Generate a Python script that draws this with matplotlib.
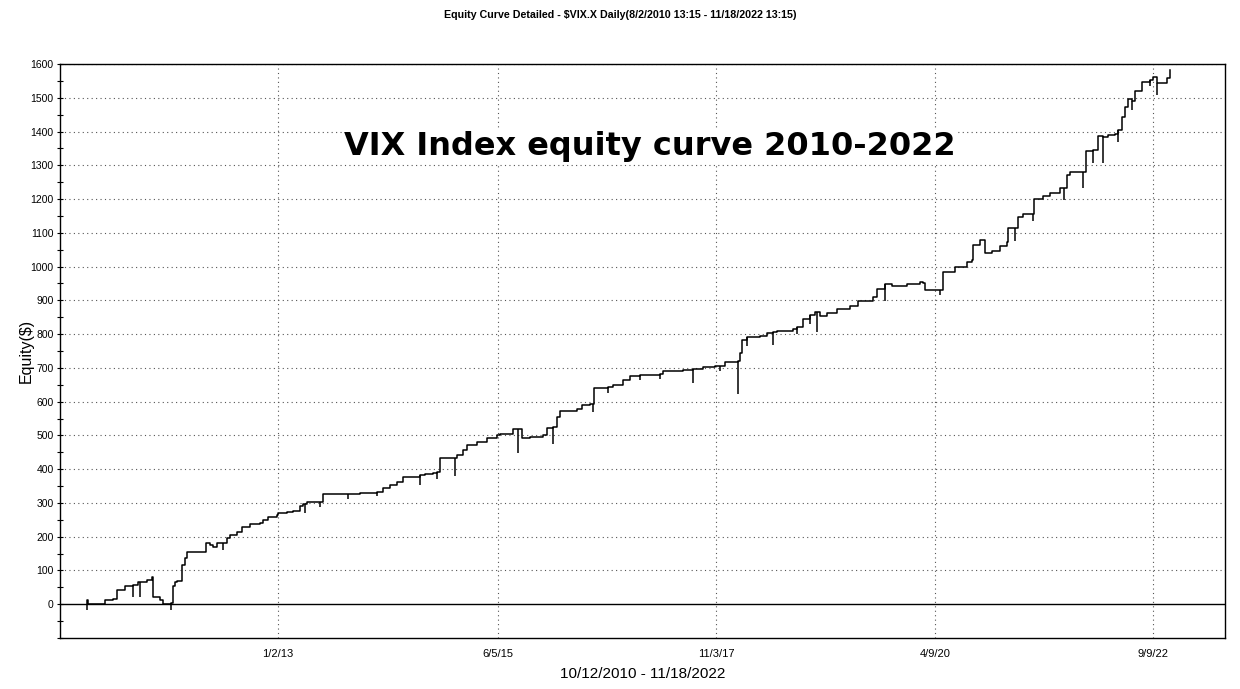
import numpy as np
import matplotlib.pyplot as plt
from matplotlib.ticker import MultipleLocator

# equity path, x in decimal years (bar axis), y in $
years = [2010.884, 2010.890, 2010.900, 2010.920, 2011.086, 2011.086, 2011.175, 2011.175,
         2011.219, 2011.219, 2011.308, 2011.308, 2011.400, 2011.451, 2011.451, 2011.480,
         2011.551, 2011.551, 2011.606, 2011.606, 2011.620, 2011.620, 2011.695, 2011.695,
         2011.728, 2011.728, 2011.816, 2011.820, 2011.839, 2011.860, 2011.883, 2011.938,
         2011.971, 2011.993, 2012.170, 2012.204, 2012.248, 2012.281, 2012.325, 2012.400,
         2012.436, 2012.469, 2012.546, 2012.602, 2012.690, 2012.801, 2012.834, 2012.889,
         2012.989, 2013.000, 2013.100, 2013.166, 2013.243, 2013.277, 2013.321, 2013.431,
         2013.465, 2013.498, 2013.763, 2013.907, 2014.095, 2014.162, 2014.239, 2014.316,
         2014.383, 2014.571, 2014.626, 2014.715, 2014.759, 2014.792, 2014.958, 2014.980,
         2015.046, 2015.091, 2015.201, 2015.312, 2015.423, 2015.456, 2015.600, 2015.655,
         2015.699, 2015.788, 2015.931, 2015.976, 2016.042, 2016.086, 2016.119, 2016.307,
         2016.363, 2016.451, 2016.485, 2016.496, 2016.650, 2016.706, 2016.816, 2016.894,
         2017.004, 2017.226, 2017.259, 2017.414, 2017.480, 2017.591, 2017.701, 2017.834,
         2017.889, 2017.945, 2018.088, 2018.111, 2018.133, 2018.188, 2018.332, 2018.409,
         2018.476, 2018.520, 2018.697, 2018.741, 2018.808, 2018.885, 2018.940, 2018.996,
         2019.073, 2019.184, 2019.327, 2019.416, 2019.582, 2019.626, 2019.715, 2019.792,
         2019.958, 2020.102, 2020.135, 2020.157, 2020.323, 2020.356, 2020.467, 2020.489,
         2020.622, 2020.677, 2020.688, 2020.765, 2020.821, 2020.821, 2020.898, 2020.987,
         2021.064, 2021.075, 2021.153, 2021.186, 2021.241, 2021.352, 2021.363, 2021.462,
         2021.540, 2021.650, 2021.695, 2021.728, 2021.761, 2021.905, 2021.938, 2022.015,
         2022.071, 2022.126, 2022.181, 2022.259, 2022.292, 2022.336, 2022.369, 2022.403,
         2022.450, 2022.480, 2022.558, 2022.646, 2022.679, 2022.723, 2022.757, 2022.834,
         2022.867]
equity = [0, 12, 0, 2, 2, 12, 14, 17,
          17, 41, 41, 53, 57, 58, 66, 66,
          68, 72, 74, 81, 81, 21, 21, 12,
          12, 2, 2, 5, 55, 65, 70, 116,
          136, 155, 155, 180, 175, 170, 180, 180,
          195, 205, 214, 229, 239, 240, 249, 259,
          264, 270, 272, 276, 290, 297, 303, 303,
          303, 326, 327, 329, 332, 343, 353, 362,
          377, 382, 385, 389, 392, 432, 432, 441,
          456, 471, 481, 491, 501, 505, 520, 518,
          491, 494, 501, 521, 525, 555, 573, 577,
          590, 593, 593, 641, 643, 649, 664, 676,
          680, 683, 690, 692, 694, 698, 704, 706,
          706, 718, 721, 743, 782, 792, 794, 802,
          805, 810, 814, 822, 845, 858, 866, 853,
          862, 873, 883, 899, 911, 935, 948, 942,
          948, 955, 952, 932, 932, 985, 985, 998,
          1014, 1019, 1064, 1079, 1079, 1041, 1047, 1062,
          1072, 1113, 1113, 1148, 1156, 1156, 1199, 1209,
          1219, 1232, 1232, 1271, 1281, 1281, 1341, 1346,
          1388, 1385, 1390, 1392, 1404, 1444, 1473, 1495,
          1490, 1521, 1548, 1553, 1562, 1545, 1543, 1558,
          1582]

# intraday drawdown spikes (bar position, low value)
spike_years = [2010.884, 2011.396, 2011.473, 2011.816, 2012.392, 2013.299, 2013.465,
               2013.774, 2014.095, 2014.571, 2014.759, 2014.958, 2015.655, 2016.042,
               2016.485, 2016.650, 2017.004, 2017.226, 2017.591, 2017.889, 2018.088,
               2018.188, 2018.476, 2018.741, 2018.885, 2018.962, 2019.715, 2020.323,
               2021.153, 2021.352, 2021.695, 2021.905, 2022.015, 2022.126, 2022.292,
               2022.450, 2022.646, 2022.723]
spike_lows = [-18, 22, 22, -18, 160, 270, 288,
              312, 322, 353, 370, 379, 448, 476,
              568, 627, 664, 668, 656, 690, 624,
              765, 768, 800, 830, 807, 899, 916,
              1075, 1135, 1196, 1232, 1306, 1306, 1370,
              1465, 1535, 1508]

tick_pos = [2013.0, 2015.430, 2017.845, 2020.268, 2022.679]
tick_labels = ["1/2/13", "6/5/15", "11/3/17", "4/9/20", "9/9/22"]

plt.rcParams['font.family'] = ['Liberation Sans', 'DejaVu Sans']

fig = plt.figure(figsize=(12.4, 6.89), dpi=100)
ax = fig.add_axes([0.0484, 0.074, 0.9395, 0.8331])

ax.plot(years, equity, color="black", lw=1.1, drawstyle="steps-post", zorder=3)
# step curve value at each spike position
idx = np.searchsorted(years, spike_years, side="right") - 1
tops = np.array(equity)[idx]
ax.vlines(spike_years, spike_lows, tops, color="black", lw=1.1, zorder=3)

ax.axhline(0, color="black", lw=1, zorder=2)

ax.set_xlim(2010.589, 2023.476)
ax.set_ylim(-100, 1600)
ax.set_xticks(tick_pos)
ax.set_xticklabels(tick_labels)
ax.set_yticks(range(0, 1601, 100))
ax.yaxis.set_minor_locator(MultipleLocator(50))
ax.tick_params(axis='y', which='both', direction='inout', length=5, width=0.8, labelsize=7.5, pad=2)
ax.tick_params(axis='x', length=0, labelsize=8, pad=8)

for v in range(100, 1601, 100):
    ax.axhline(v, color="#555555", lw=0.8, ls=(0, (1, 3)), zorder=1)
for p in tick_pos:
    ax.axvline(p, color="#555555", lw=0.8, ls=(0, (1, 3)), zorder=1)

for s in ax.spines.values():
    s.set_linewidth(1)

ax.set_ylabel("Equity($)", fontsize=11.5, labelpad=-2)
ax.set_xlabel("10/12/2010 - 11/18/2022", fontsize=11, labelpad=6)

fig.text(0.5, 0.978, "Equity Curve Detailed - $VIX.X Daily(8/2/2010 13:15 - 11/18/2022 13:15)",
         ha="center", va="center", fontsize=7.7, fontweight="bold")

ax.text(0.506, 0.857, "VIX Index equity curve 2010-2022", transform=ax.transAxes,
        ha="center", va="center", fontsize=23, fontweight="bold", family=["DejaVu Sans"],
        zorder=4, bbox=dict(facecolor="white", edgecolor="none", pad=1))

fig.savefig("out.png", dpi=100)
